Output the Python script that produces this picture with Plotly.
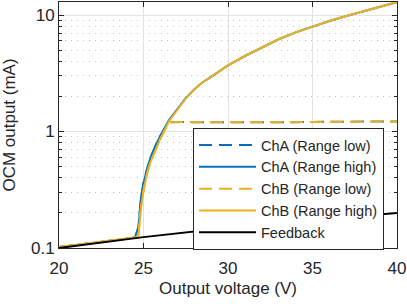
import plotly.graph_objects as go

# output voltage (V)
volts = [20, 21, 22, 23, 24, 24.5, 24.7, 24.85, 25.0, 25.2, 25.4, 25.7, 26.0, 26.5,
         27.0, 27.5, 28, 28.5, 29, 30, 31, 32, 33, 34, 35, 36, 37, 38, 39, 40]

# OCM output (mA)
cha_high = [0.102, 0.106, 0.111, 0.115, 0.120, 0.124, 0.150, 0.27, 0.36, 0.47, 0.59, 0.75,
            0.92, 1.25, 1.57, 1.93, 2.3, 2.65, 2.95, 3.7, 4.45, 5.25, 6.2, 7.1, 7.95,
            8.9, 9.8, 10.8, 11.8, 12.9]
chb_high = [0.102, 0.106, 0.111, 0.115, 0.120, 0.123, 0.128, 0.22, 0.31, 0.43, 0.54, 0.69,
            0.87, 1.22, 1.55, 1.92, 2.3, 2.65, 2.95, 3.7, 4.45, 5.25, 6.2, 7.1, 7.95,
            8.9, 9.8, 10.8, 11.8, 12.9]
cha_low = [0.102, 0.106, 0.111, 0.115, 0.120, 0.124, 0.150, 0.27, 0.36, 0.47, 0.59, 0.75,
           0.92, 1.20, 1.21, 1.21, 1.20, 1.20, 1.19, 1.19, 1.19, 1.20, 1.20, 1.20, 1.21,
           1.21, 1.21, 1.22, 1.22, 1.22]
chb_low = [0.102, 0.106, 0.111, 0.115, 0.120, 0.123, 0.128, 0.22, 0.31, 0.43, 0.54, 0.69,
           0.87, 1.20, 1.21, 1.21, 1.20, 1.20, 1.19, 1.19, 1.19, 1.20, 1.20, 1.20, 1.21,
           1.21, 1.21, 1.22, 1.22, 1.22]

fb_volts = [20, 25, 30, 35, 40]
feedback = [0.100, 0.124, 0.149, 0.174, 0.200]

blue = "#0072BD"
yellow = "#EDB120"
axc = "#262626"
dash = "13px,7px"

fig = go.Figure()
fig.add_trace(go.Scatter(x=volts, y=cha_low, mode="lines", name="ChA (Range low)",
                         line=dict(color=blue, width=2, dash=dash)))
fig.add_trace(go.Scatter(x=volts, y=cha_high, mode="lines", name="ChA (Range high)",
                         line=dict(color=blue, width=2)))
fig.add_trace(go.Scatter(x=volts, y=chb_low, mode="lines", name="ChB (Range low)",
                         line=dict(color=yellow, width=2, dash=dash)))
fig.add_trace(go.Scatter(x=volts, y=chb_high, mode="lines", name="ChB (Range high)",
                         line=dict(color=yellow, width=2)))
fig.add_trace(go.Scatter(x=fb_volts, y=feedback, mode="lines", name="Feedback",
                         line=dict(color="black", width=2)))

minor_vals = [0.2, 0.3, 0.4, 0.5, 0.6, 0.7, 0.8, 0.9, 2, 3, 4, 5, 6, 7, 8, 9]

fig.update_layout(
    width=407, height=304,
    margin=dict(l=59, r=10, t=2, b=56),
    paper_bgcolor="white", plot_bgcolor="white",
    font=dict(family="Liberation Sans, Arial, sans-serif", size=17, color=axc),
    legend=dict(x=0.9615, y=0.4878, xanchor="right", yanchor="top",
                bgcolor="white", bordercolor=axc, borderwidth=1,
                font=dict(size=14.5), itemwidth=57, tracegroupgap=0),
)
fig.update_xaxes(
    range=[20, 40], tickvals=[20, 25, 30, 35, 40], automargin=False,
    title=dict(text="Output voltage (V)", font=dict(size=17), standoff=4),
    showline=True, linecolor=axc, linewidth=1, mirror="allticks",
    ticks="inside", ticklen=5, tickcolor=axc, ticklabelstandoff=5,
    showgrid=True, gridcolor="#e3e3e3", zeroline=False,
)
fig.update_yaxes(
    type="log", range=[-1, 1.112], tickvals=[0.1, 1, 10], ticktext=["0.1", "1", "10"],
    automargin=False,
    title=dict(text="OCM output (mA)", font=dict(size=17), standoff=11),
    showline=True, linecolor=axc, linewidth=1, mirror="allticks",
    ticks="inside", ticklen=5, tickcolor=axc,
    showgrid=True, gridcolor="#e3e3e3", zeroline=False,
    minor=dict(tickvals=minor_vals, ticks="inside", ticklen=3, tickcolor=axc,
               showgrid=True, gridcolor="#c4c4c4", griddash="1px,5px"),
)

# the page body has a default 8px margin; drop it so the figure sits at the corner
fig.write_html("out.html", config={"displayModeBar": False},
               post_script="document.body.style.margin='0';")
